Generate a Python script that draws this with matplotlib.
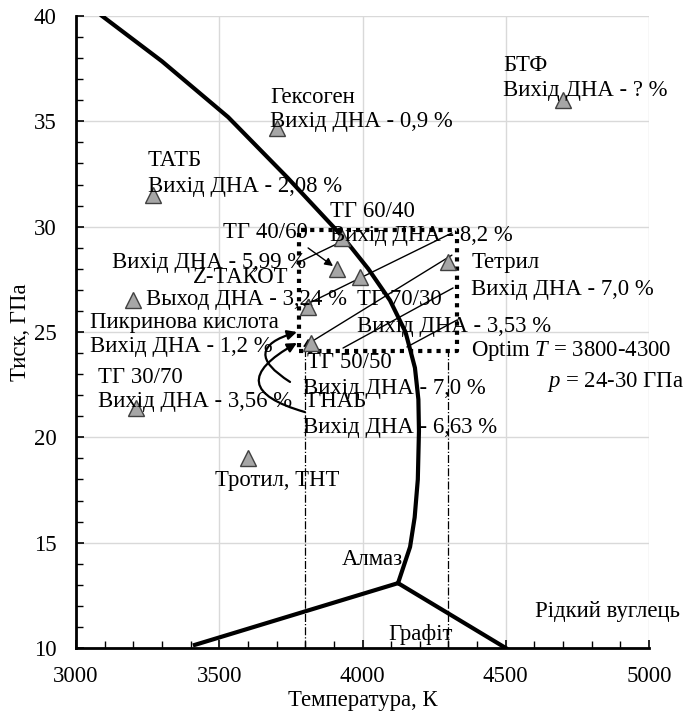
import matplotlib
matplotlib.use('Agg')
import matplotlib.pyplot as plt
from matplotlib.ticker import MultipleLocator

plt.rcParams['font.family'] = ['Liberation Serif', 'DejaVu Serif']
plt.rcParams['mathtext.fontset'] = 'custom'
plt.rcParams['mathtext.rm'] = 'Liberation Serif'
plt.rcParams['mathtext.it'] = 'Liberation Serif:italic'

# phase boundary diamond / liquid carbon
melt_T = [3091, 3300, 3531, 3740, 3932, 4020, 4096, 4150, 4183, 4195, 4197, 4193, 4182, 4166, 4124]
melt_p = [40.0, 37.85, 35.2, 32.3, 29.5, 28.0, 26.5, 25.0, 23.3, 21.8, 20.3, 18.0, 16.2, 14.8, 13.08]
# diamond / graphite and graphite / liquid
dg_T = [3415, 4124]
dg_p = [10.15, 13.08]
gl_T = [4124, 4500]
gl_p = [13.08, 10.0]

# explosives (triangles)
pt_T = [4700, 3700, 3270, 3930, 3910, 3990, 4300, 3810, 3200, 3820, 3210, 3600]
pt_p = [36.0, 34.7, 31.5, 29.45, 28.0, 27.6, 28.3, 26.2, 26.5, 24.5, 21.4, 19.0]

# labels: text, T (left edge), p (vertical centre)
labels = [
    ('БТФ', 4490, 37.63), ('Вихід ДНА - ? %', 4490, 36.44),
    ('Гексоген', 3677, 36.15), ('Вихід ДНА - 0,9 %', 3677, 35.0),
    ('ТАТБ', 3251, 33.16), ('Вихід ДНА - 2,08 %', 3251, 31.93),
    ('ТГ 60/40', 3887, 30.74), ('Вихід ДНА - 8,2 %', 3887, 29.56),
    ('ТГ 40/60', 3513, 29.7), ('Вихід ДНА - 5,99 %', 3126, 28.32),
    ('Z-ТАКОТ', 3408, 27.61), ('Выход ДНА - 3,24 %', 3245, 26.52),
    ('Пикринова кислота', 3048, 25.47), ('Вихід ДНА - 1,2 %', 3048, 24.29),
    ('ТГ 30/70', 3077, 22.86), ('Вихід ДНА - 3,56 %', 3077, 21.68),
    ('ТГ 70/30', 3981, 26.52), ('Вихід ДНА - 3,53 %', 3981, 25.24),
    ('ТГ 50/50', 3806, 23.53), ('Вихід ДНА - 7,0 %', 3792, 22.34),
    ('ГНАБ', 3806, 21.68), ('Вихід ДНА - 6,63 %', 3792, 20.49),
    ('Тетрил', 4379, 28.32), ('Вихід ДНА - 7,0 %', 4379, 27.0),
    ('Тротил, ТНТ', 3485, 17.97),
    ('Алмаз', 3928, 14.18), ('Графіт', 4089, 10.66),
    ('Рідкий вуглець', 4602, 11.71),
]

# straight leader lines: (T0, p0, T1, p1, arrowhead)
leaders = [
    (3771, 28.27, 3939, 29.37, False),
    (3810, 28.99, 3897, 28.13, True),
    (4312, 29.70, 3792, 26.23, True),
    (4312, 28.65, 3792, 24.29, True),
    (4316, 27.09, 3932, 24.24, False),
    (4330, 25.57, 4155, 24.29, False),
]
# curved arrows from ГНАБ / ТГ 50/50 region
curves = [
    (3747, 22.63, 3771, 25.0, -1.1),
    (3799, 21.2, 3771, 24.48, -1.2),
]

box_T = [3780, 4330]
box_p = [24.1, 29.85]

fig = plt.figure(figsize=(6.86, 7.17), dpi=100)
ax = fig.add_axes([0.1108, 0.0962, 0.8353, 0.8815])

ax.grid(True, which='major', color='#d9d9d9', lw=1)
ax.set_axisbelow(True)

ax.plot(melt_T, melt_p, color='black', lw=3, solid_joinstyle='round')
ax.plot(dg_T, dg_p, color='black', lw=3)
ax.plot(gl_T, gl_p, color='black', lw=3)

# optimum window
ax.plot([box_T[0], box_T[1], box_T[1], box_T[0], box_T[0]],
        [box_p[0], box_p[0], box_p[1], box_p[1], box_p[0]],
        color='black', lw=3, ls=(0, (1, 1.2)))
for t in [3800, 4300]:
    ax.plot([t, t], [10, box_p[0]], color='black', lw=0.9, ls='-.')

for t0, p0, t1, p1, head in leaders:
    ax.annotate('', xy=(t1, p1), xytext=(t0, p0),
                arrowprops=dict(arrowstyle='-|>' if head else '-', color='black',
                                lw=1, mutation_scale=12, shrinkA=0, shrinkB=0))
for t0, p0, t1, p1, rad in curves:
    ax.annotate('', xy=(t1, p1), xytext=(t0, p0),
                arrowprops=dict(arrowstyle='-|>', color='black', lw=1.6,
                                mutation_scale=14, shrinkA=0, shrinkB=0,
                                connectionstyle='arc3,rad=%s' % rad))

ax.plot(pt_T, pt_p, ls='none', marker='^', ms=11, mfc='#a6a6a6',
        mec='#404040', mew=1, zorder=5)

fs = 16.4
for txt, t, p in labels:
    ax.text(t, p, txt, fontsize=fs, ha='left', va='center', zorder=6)

ax.text(4379, 24.1, 'Optim $\\mathit{T}$ = 3800-4300', fontsize=fs, ha='left', va='center')
ax.text(4644, 22.63, '$\\mathit{p}$ = 24-30 ГПа', fontsize=fs, ha='left', va='center')

ax.set_xlim(3000, 5000)
ax.set_ylim(10, 40)
ax.xaxis.set_major_locator(MultipleLocator(500))
ax.xaxis.set_minor_locator(MultipleLocator(100))
ax.yaxis.set_major_locator(MultipleLocator(5))
ax.yaxis.set_minor_locator(MultipleLocator(1))
ax.tick_params(axis='x', which='both', direction='in', labelsize=fs, pad=13)
ax.tick_params(axis='y', which='both', direction='in', labelsize=fs, pad=14)
ax.tick_params(which='major', length=6, width=1.2)
ax.tick_params(which='minor', length=5, width=1)

for s in ['top', 'right']:
    ax.spines[s].set_visible(False)
for s in ['left', 'bottom']:
    ax.spines[s].set_linewidth(2)

ax.set_xlabel('Температура, К', fontsize=fs, labelpad=2)
ax.set_ylabel('Тиск, ГПа', fontsize=fs, labelpad=2)

fig.savefig('out.png', dpi=100)
